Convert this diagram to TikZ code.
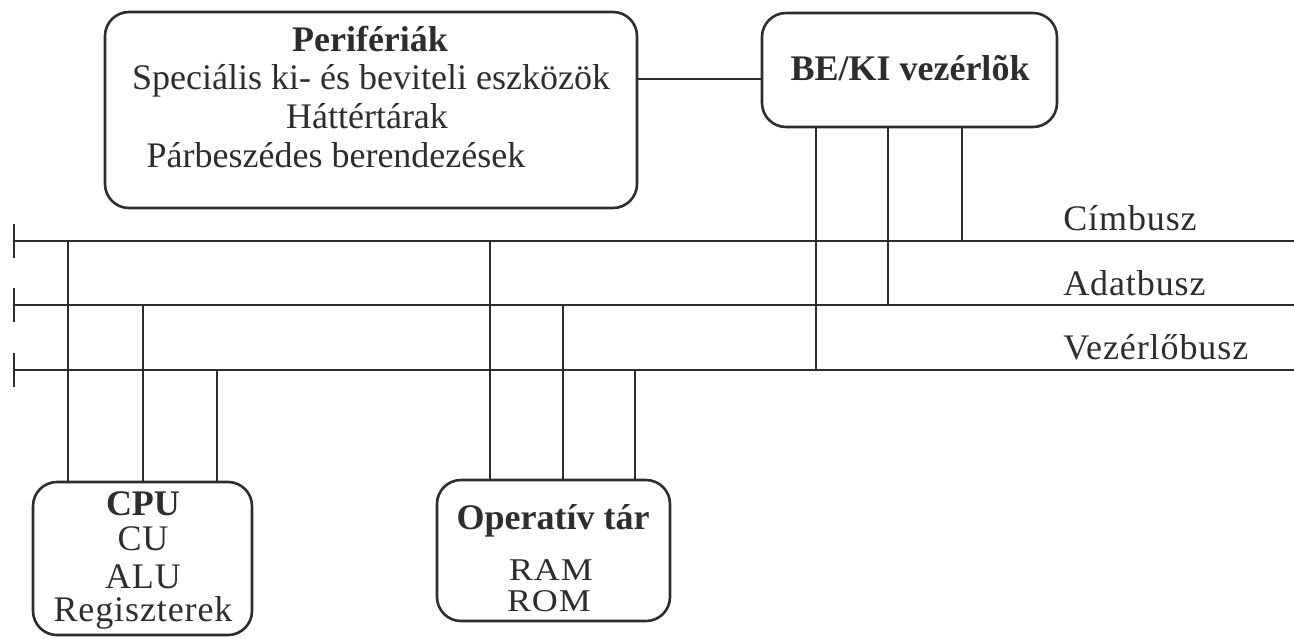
\documentclass[tikz,border=0pt]{standalone}
\usepackage{fontspec}
\setmainfont{Liberation Serif}
\definecolor{ink}{RGB}{45,45,45}
\begin{document}
\begin{tikzpicture}[x=1pt,y=-1pt,
  line width=2.6pt, draw=ink,
  box/.style={draw=ink, rounded corners=24pt, line width=2.6pt, minimum width=#1, inner sep=0pt},
  txt/.style={anchor=base, inner sep=0pt, text=ink, font=\fontsize{36}{39}\selectfont},
  stxt/.style={txt, font=\fontsize{36}{39}\selectfont\addfontfeatures{LetterSpace=2.5}},
  btxt/.style={txt, font=\fontsize{36}{39}\selectfont\bfseries},
  wire/.style={draw=ink, line width=2.6pt}]
\useasboundingbox (0,0) rectangle (1294,638);

% boxes
\node[box=532pt, minimum height=196pt] (periph) at (371,110) {};
\node[box=295pt, minimum height=114pt] (beki) at (909.5,70) {};
\node[box=219pt, minimum height=153pt] (cpu) at (142.5,558.5) {};
\node[box=233pt, minimum height=141pt] (mem) at (553.5,550.5) {};

% box texts
\node[btxt] (pt1) at (370,51) {Perifériák};
\node[txt] (pt2) at (371,89) {Speciális ki- és beviteli eszközök};
\node[txt] (pt3) at (367,128) {Háttértárak};
\node[txt] (pt4) at (336,167) {Párbeszédes berendezések};
\node[btxt] (bt) at (910,80) {BE/KI vezérlõk};
\node[btxt] (ct1) at (143,515) {CPU};
\node[stxt] (ct2) at (143,550) {CU};
\node[stxt] (ct3) at (143,588) {ALU};
\node[stxt] (ct4) at (143,621) {Regiszterek};
\node[btxt] (mt1) at (553,529) {Operatív tár};
\node[stxt] (mt2) at (551,580) {\scalebox{1}[0.88]{RAM}};
\node[stxt] (mt3) at (549,611) {\scalebox{1}[0.88]{ROM}};

% buses
\coordinate (cimL) at (14,241);
\coordinate (cimR) at (1294,241);
\coordinate (adatL) at (14,305);
\coordinate (adatR) at (1294,305);
\coordinate (vezL) at (14,370);
\coordinate (vezR) at (1294,370);
\draw[wire] (cimL) -- (cimR);
\draw[wire] (adatL) -- (adatR);
\draw[wire] (vezL) -- (vezR);
\foreach \b in {cimL,adatL,vezL}
  \draw[wire] ([yshift=-17pt]\b) -- ([yshift=17pt]\b);

\node[stxt, anchor=base west] (lcim) at (1062,230) {Címbusz};
\node[stxt, anchor=base west] (ladat) at (1062,295) {Adatbusz};
\node[stxt, anchor=base west] (lvez) at (1062,359) {Vezérlőbusz};

% peripherals to controllers
\coordinate (link) at ([yshift=31pt]periph.east);
\draw[wire] (link) -- (link -| beki.west);

% controller taps
\draw[wire] (962,0 |- beki.south) -- (962,0 |- cimL);
\draw[wire] (888,0 |- beki.south) -- (888,0 |- adatL);
\draw[wire] (816,0 |- beki.south) -- (816,0 |- vezL);

% CPU taps
\draw[wire] (68,0 |- cpu.north) -- (68,0 |- cimL);
\draw[wire] (143,0 |- cpu.north) -- (143,0 |- adatL);
\draw[wire] (217,0 |- cpu.north) -- (217,0 |- vezL);

% memory taps
\draw[wire] (490,0 |- mem.north) -- (490,0 |- cimL);
\draw[wire] (563,0 |- mem.north) -- (563,0 |- adatL);
\draw[wire] (635,0 |- mem.north) -- (635,0 |- vezL);
\end{tikzpicture}
\end{document}
